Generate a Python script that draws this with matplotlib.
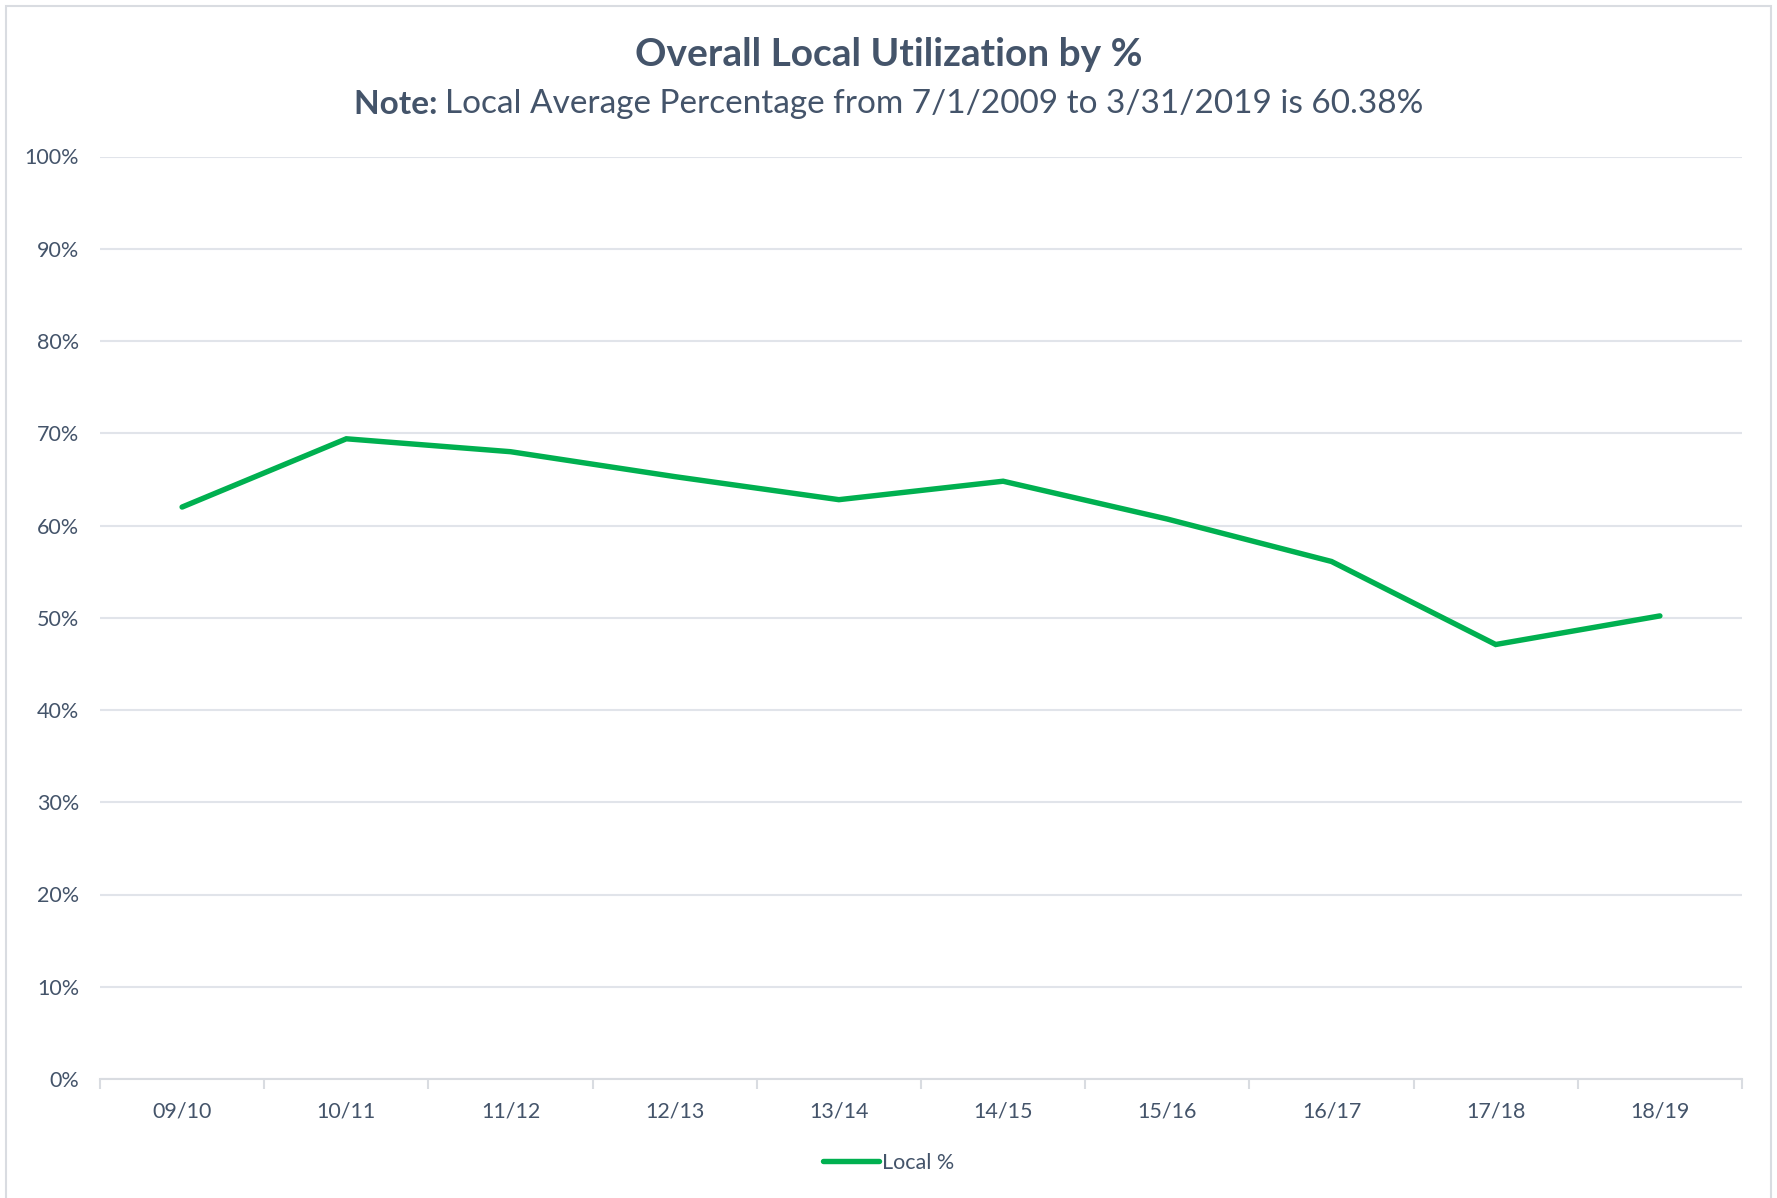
import matplotlib
matplotlib.use("Agg")
import matplotlib.pyplot as plt
from matplotlib.patches import Rectangle
from matplotlib.ticker import FixedLocator, PercentFormatter

# data
years = ["09/10", "10/11", "11/12", "12/13", "13/14",
         "14/15", "15/16", "16/17", "17/18", "18/19"]
local_pct = [62.0, 69.4, 68.0, 65.3, 62.8, 64.8, 60.7, 56.1, 47.1, 50.2]
y_ticks = [0, 10, 20, 30, 40, 50, 60, 70, 80, 90, 100]

title = "Overall Local Utilization by %"
note_bold = "Note:"
note_rest = "Local Average Percentage from 7/1/2009 to 3/31/2019 is 60.38%"

W, H = 1777, 1198
TXT = "#44546A"
GRID = "#E1E4EA"
GREEN = "#00B050"
plt.rcParams["font.family"] = ["Lato", "DejaVu Sans"]

fig = plt.figure(figsize=(W / 100, H / 100), dpi=100)
fig.patch.set_facecolor("white")

# outer chart frame
fig.patches.append(Rectangle((6 / W, -0.02), (1771 - 6) / W, 1.02 - 6 / H,
                             transform=fig.transFigure, fill=False,
                             edgecolor="#D9DCE1", lw=1.5))

left, right = 100 / W, 1742 / W
bottom, top = (H - 1079) / H, (H - 156.5) / H
ax = fig.add_axes([left, bottom, right - left, top - bottom])

x = list(range(len(years)))
ax.plot(x, local_pct, color=GREEN, lw=3.9, solid_capstyle="round",
        solid_joinstyle="miter", label="Local %", zorder=3)

ax.set_xlim(-0.5, len(years) - 0.5)
ax.set_ylim(0, 100)
ax.yaxis.set_major_locator(FixedLocator(y_ticks))
ax.yaxis.set_major_formatter(PercentFormatter(decimals=0))
ax.set_xticks(x)
ax.set_xticklabels(years)
# ticks sit at category boundaries
ax.xaxis.set_minor_locator(FixedLocator([i - 0.5 for i in range(len(years) + 1)]))
ax.tick_params(axis="x", which="major", length=0, pad=16, labelsize=15.5, labelcolor=TXT)
ax.tick_params(axis="x", which="minor", length=7, width=1.5, color="#D9DCE1", direction="out")
ax.tick_params(axis="y", length=0, pad=15, labelsize=15.5, labelcolor=TXT)

ax.grid(axis="y", color=GRID, lw=1.5)
ax.set_axisbelow(True)
for s in ["top", "right", "left"]:
    ax.spines[s].set_visible(False)
ax.spines["bottom"].set_color("#D9DCE1")
ax.spines["bottom"].set_linewidth(1.5)
ax.spines["bottom"].set_zorder(2)

# titles
fig.text(0.5, 1 - 55 / H, title, ha="center", va="center",
         fontsize=28, fontweight="bold", color=TXT)
r = fig.canvas.get_renderer()
t1 = fig.text(0, 1 - 104 / H, note_bold + " ", ha="left", va="center",
              fontsize=24, fontweight="bold", color=TXT)
t2 = fig.text(0, 1 - 104 / H, note_rest, ha="left", va="center",
              fontsize=24, color=TXT)
w1 = t1.get_window_extent(r).width
w2 = t2.get_window_extent(r).width
x0 = (W - w1 - w2) / 2
t1.set_x(x0 / W)
t2.set_x((x0 + w1) / W)

leg = fig.legend(loc="center", bbox_to_anchor=(0.5, 1 - 1163 / H), frameon=False,
                 fontsize=15.5, handlelength=2.6, handletextpad=0.15,
                 labelcolor=TXT)

fig.savefig("out.png", dpi=100, facecolor="white")
